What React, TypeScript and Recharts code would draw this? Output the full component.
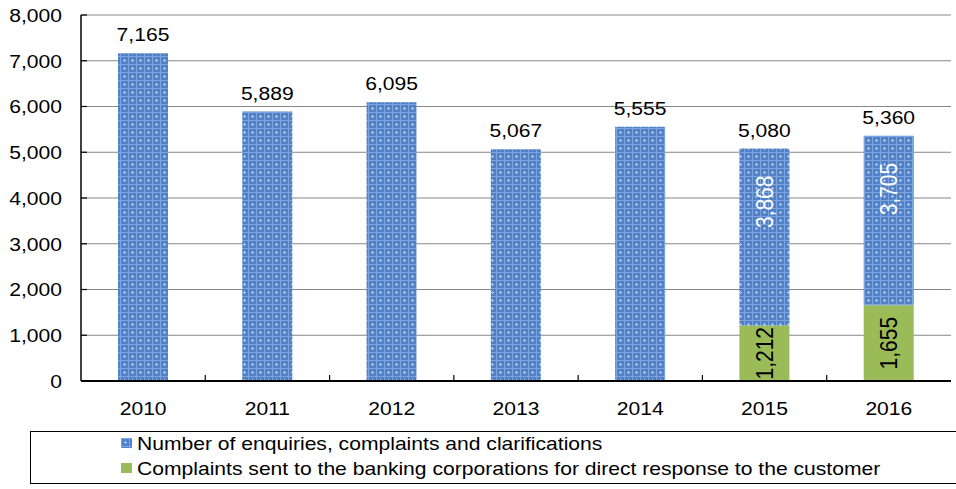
import React from 'react';
import { BarChart, Bar, XAxis, YAxis, CartesianGrid, LabelList, Legend } from 'recharts';

const years = ['2010', '2011', '2012', '2013', '2014', '2015', '2016'];
const enquiries = [7165, 5889, 6095, 5067, 5555, 3868, 3705];
const complaintsSent: (number | null)[] = [null, null, null, null, null, 1212, 1655];
const totals = [7165, 5889, 6095, 5067, 5555, 5080, 5360];
const yTicks = [0, 1000, 2000, 3000, 4000, 5000, 6000, 7000, 8000];
const legendLabels = [
  'Number of enquiries, complaints and clarifications',
  'Complaints sent to the banking corporations for direct response to the customer',
];

const data = years.map((year, i) => ({
  year,
  enquiries: enquiries[i],
  complaints: complaintsSent[i],
  total: totals[i],
}));

const FONT = '"Liberation Sans", Arial, sans-serif';
const SX = 1.11;
const FS = 19;
const GREEN = '#9BBB59';
const fmt = (v: number) => Number(v).toLocaleString('en-US');
const stretch = (x: number, y: number) => `translate(${x} ${y}) scale(${SX} 1) translate(${-x} ${-y})`;

const YTick = (props: any) => {
  const { x, y, payload } = props;
  const tx = x - 19;
  return (
    <g>
      <line x1={x} x2={x + 6} y1={y} y2={y} stroke="#000" strokeWidth={1.2} />
      <text x={tx} y={y} dy="0.36em" textAnchor="end" fontSize={FS} fontFamily={FONT} fill="#000" transform={stretch(tx, y)}>
        {fmt(payload.value)}
      </text>
    </g>
  );
};

const XTick = (props: any) => {
  const { x, y, payload, index } = props;
  const band = 870 / years.length;
  const bx = x - band / 2;
  return (
    <g>
      {index > 0 && <line x1={bx} x2={bx} y1={y} y2={y - 6} stroke="#000" strokeWidth={1.2} />}
      <text x={x} y={y + 34} textAnchor="middle" fontSize={FS} fontFamily={FONT} fill="#000" transform={stretch(x, y + 34)}>
        {payload.value}
      </text>
    </g>
  );
};

const TotalLabel = (props: any) => {
  const { x, y, width, value } = props;
  const cx = Number(x) + Number(width) / 2;
  const ty = Number(y) - 12;
  return (
    <text x={cx} y={ty} textAnchor="middle" fontSize={FS} fontFamily={FONT} fill="#000" transform={stretch(cx, ty)}>
      {fmt(value)}
    </text>
  );
};

const EnqInsideLabel = (props: any) => {
  const { x, y, width, value, index } = props;
  if (complaintsSent[index] == null) return null;
  const cx = Number(x) + Number(width) / 2;
  const ty = Number(y) + 27;
  return (
    <g transform={`translate(${cx} ${ty}) scale(${SX} 1) rotate(-90)`}>
      <text x={0} y={0} dy="0.36em" textAnchor="end" fontSize={21} fontFamily={FONT} fill="#fff">
        {fmt(value)}
      </text>
    </g>
  );
};

const GreenLabel = (props: any) => {
  const { x, y, width, height, value } = props;
  if (value == null) return null;
  const cx = Number(x) + Number(width) / 2;
  const cy = Number(y) + Number(height) / 2;
  return (
    <g transform={`translate(${cx} ${cy}) scale(${SX} 1) rotate(-90)`}>
      <text x={0} y={0} dy="0.36em" textAnchor="middle" fontSize={21} fontFamily={FONT} fill="#000">
        {fmt(value)}
      </text>
    </g>
  );
};

const PatternDefs = ({ id }: { id: string }) => (
  <pattern id={id} width="8" height="8" patternUnits="userSpaceOnUse">
    <rect width="8" height="8" fill="#5182C9" />
    <rect x="0" y="0" width="8" height="1" fill="#7DA3DC" />
    <rect x="0" y="0" width="1" height="8" fill="#7DA3DC" />
    <rect x="3" y="4" width="3" height="1" fill="#A9C5EC" />
    <rect x="4" y="3" width="1" height="3" fill="#A9C5EC" />
  </pattern>
);

const LegendContent = () => (
  <div
    style={{
      position: 'relative',
      boxSizing: 'border-box',
      width: 926,
      height: 53,
      border: '1.5px solid #000',
      borderRight: 'none',
      fontFamily: FONT,
      fontSize: FS,
      lineHeight: `${FS}px`,
      color: '#000',
      background: '#fff',
    }}
  >
    {legendLabels.map((label, i) => (
      <div key={label} style={{ position: 'absolute', left: 0, top: 0, width: '100%' }}>
        <svg width={11} height={10} style={{ position: 'absolute', left: 90, top: 6 + i * 25 }}>
          <defs>{i === 0 && <PatternDefs id="legPat" />}</defs>
          <rect width={11} height={10} fill={i === 0 ? 'url(#legPat)' : GREEN} />
        </svg>
        <span
          style={{
            position: 'absolute',
            left: 106,
            top: 2 + i * 25,
            whiteSpace: 'nowrap',
            transform: `scaleX(${SX})`,
            transformOrigin: 'left center',
          }}
        >
          {label}
        </span>
      </div>
    ))}
  </div>
);

export default function App() {
  return (
    <div style={{ position: 'absolute', left: 0, top: 0, width: 956, height: 489, background: '#fff' }}>
      <BarChart
        width={956}
        height={489}
        data={data}
        margin={{ top: 15, right: 5, left: 0, bottom: 15 }}
        barSize={50}
      >
        <defs>
          <PatternDefs id="bluePat" />
        </defs>
        <CartesianGrid vertical={false} stroke="#878787" strokeWidth={1} />
        <XAxis
          dataKey="year"
          height={40}
          tickSize={0}
          tickMargin={0}
          tickLine={false}
          tick={<XTick />}
          axisLine={{ stroke: '#000', strokeWidth: 2 }}
          interval={0}
        />
        <XAxis xAxisId="top" orientation="top" height={0} dataKey="year" tick={false} tickLine={false} axisLine={{ stroke: '#000', strokeWidth: 1.5 }} />
        <YAxis
          width={81}
          domain={[0, 8000]}
          ticks={yTicks}
          tickSize={0}
          tickMargin={0}
          tickLine={false}
          tick={<YTick />}
          axisLine={{ stroke: '#000', strokeWidth: 1.5 }}
          interval={0}
        />
        <YAxis yAxisId="right" orientation="right" width={0} domain={[0, 8000]} tick={false} tickLine={false} axisLine={{ stroke: '#000', strokeWidth: 1.5 }} />
        <Legend
          verticalAlign="bottom"
          content={<LegendContent />}
          wrapperStyle={{ left: 30, top: 431, bottom: 'auto', width: 926, height: 53 }}
        />
        <Bar dataKey="complaints" stackId="a" fill={GREEN} isAnimationActive={false} name={legendLabels[1]}>
          <LabelList dataKey="complaints" content={<GreenLabel />} />
        </Bar>
        <Bar dataKey="enquiries" stackId="a" fill="url(#bluePat)" isAnimationActive={false} name={legendLabels[0]}>
          <LabelList dataKey="total" content={<TotalLabel />} />
          <LabelList dataKey="enquiries" content={<EnqInsideLabel />} />
        </Bar>
      </BarChart>
    </div>
  );
}
